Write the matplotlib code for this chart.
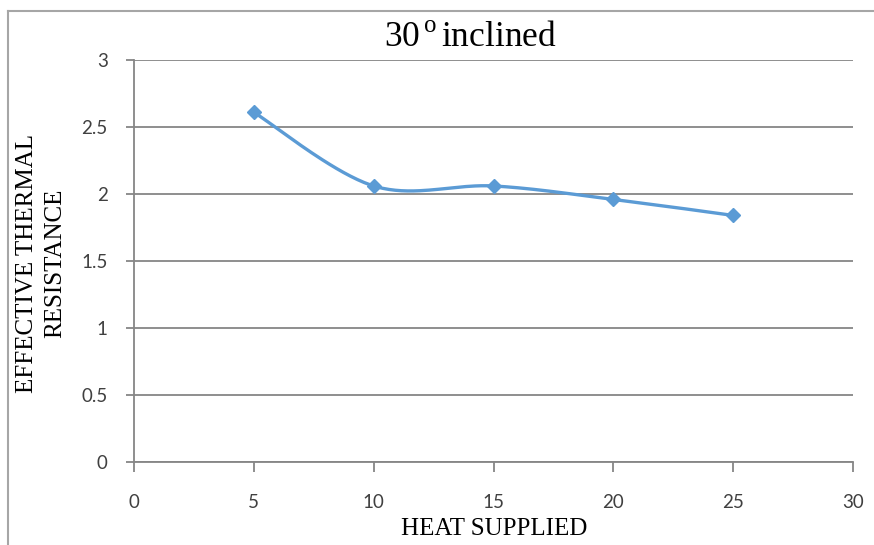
import numpy as np
import matplotlib.pyplot as plt
from matplotlib.lines import Line2D

heat = [5, 10, 15, 20, 25]
resistance = [2.61, 2.06, 2.06, 1.96, 1.84]
x_ticks = [0, 5, 10, 15, 20, 25, 30]
y_ticks = [0, 0.5, 1, 1.5, 2, 2.5, 3]

plt.rcParams['mathtext.fontset'] = 'custom'
plt.rcParams['mathtext.rm'] = 'Liberation Serif'


def smooth_curve(xs, ys, n=40):
    # cubic bezier through each point, tangents from neighbours (spreadsheet style)
    px = np.asarray(xs, float)
    py = np.asarray(ys, float)
    out_x, out_y = [], []
    t = np.linspace(0, 1, n)
    for i in range(len(px) - 1):
        p0 = (px[max(i - 1, 0)], py[max(i - 1, 0)])
        p1 = (px[i], py[i])
        p2 = (px[i + 1], py[i + 1])
        p3 = (px[min(i + 2, len(px) - 1)], py[min(i + 2, len(py) - 1)])
        c1 = (p1[0] + (p2[0] - p0[0]) / 6, p1[1] + (p2[1] - p0[1]) / 6)
        c2 = (p2[0] - (p3[0] - p1[0]) / 6, p2[1] - (p3[1] - p1[1]) / 6)
        for k, (a, b, c, d) in enumerate([(p1[0], c1[0], c2[0], p2[0]), (p1[1], c1[1], c2[1], p2[1])]):
            v = (1 - t) ** 3 * a + 3 * (1 - t) ** 2 * t * b + 3 * (1 - t) * t ** 2 * c + t ** 3 * d
            (out_x if k == 0 else out_y).extend(v)
    return out_x, out_y


fig = plt.figure(figsize=(8.74, 5.45), dpi=100)
ax = fig.add_axes([0.1533, 0.1523, 0.8227, 0.7376])

grid_col = '#868686'
blue = '#5B9BD5'

sx, sy = smooth_curve(heat, resistance)
ax.plot(sx, sy, color=blue, lw=2.4, solid_capstyle='round', zorder=3)
ax.plot(heat, resistance, 'D', color=blue, ms=7, zorder=4)

ax.set_xlim(0, 30)
ax.set_ylim(0, 3)
ax.set_xticks(x_ticks)
ax.set_yticks(y_ticks)
ax.set_yticklabels([f'{v:g}' for v in y_ticks])
ax.grid(axis='y', color=grid_col, lw=1.3)
ax.set_axisbelow(True)

for s in ['top', 'right']:
    ax.spines[s].set_visible(False)
for s in ['left', 'bottom']:
    ax.spines[s].set_color(grid_col)
    ax.spines[s].set_linewidth(1.3)

ax.tick_params(axis='x', direction='out', length=7, width=1.3, color=grid_col, pad=16,
               labelsize=13.5, labelcolor='#404040')
ax.tick_params(axis='y', direction='out', length=6, width=1.3, color=grid_col, pad=13,
               labelsize=13.5, labelcolor='#404040')
for lab in ax.get_xticklabels() + ax.get_yticklabels():
    lab.set_family('Lato')

fig.text(0.565, 0.029, 'HEAT SUPPLIED', family='Liberation Serif', fontsize=18,
         ha='center', va='center')
fig.text(0.047, 0.517, 'EFFECTIVE THERMAL\nRESISTANCE', family='Liberation Serif', fontsize=18,
         rotation=90, ha='center', va='center', linespacing=1.35, multialignment='center')

fig.text(0.538, 0.932, r'30$^{\,\mathrm{o}\,}$inclined', family='Liberation Serif', fontsize=25.5,
         ha='center', va='center')

# chart frame
fig.add_artist(Line2D([0.009, 0.009], [0, 0.98], transform=fig.transFigure, color='#a6a6a6', lw=1.5))
fig.add_artist(Line2D([0.009, 1], [0.98, 0.98], transform=fig.transFigure, color='#a6a6a6', lw=1.5))

fig.savefig('out.png', dpi=100)
